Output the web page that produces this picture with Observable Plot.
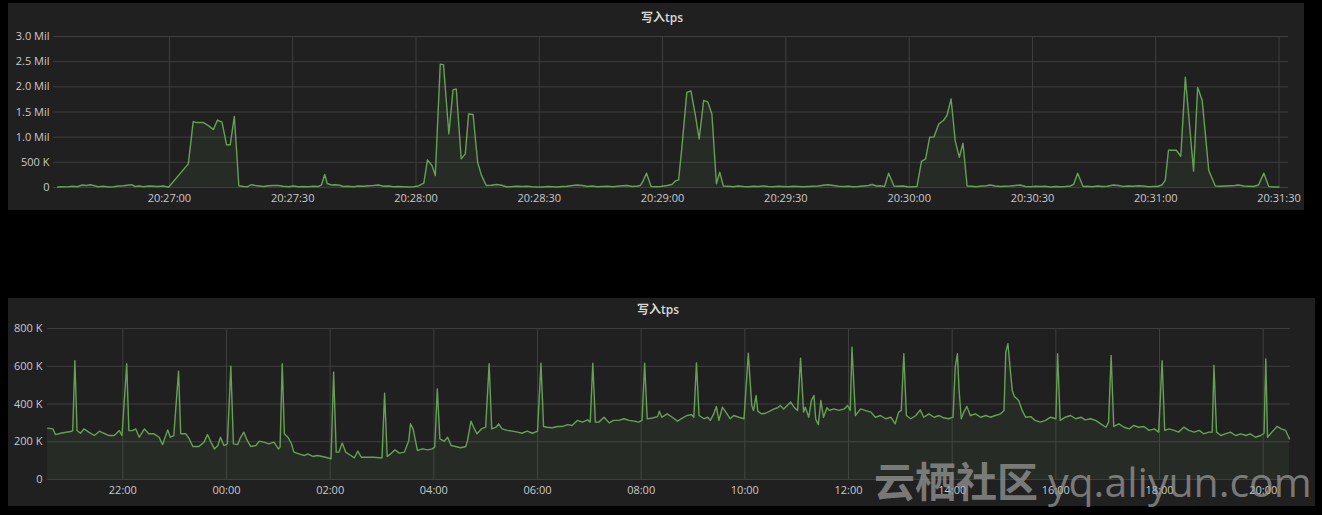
<!DOCTYPE html>
<html><head><meta charset="utf-8">
<script src="https://cdn.jsdelivr.net/npm/d3@7"></script>
<script src="https://cdn.jsdelivr.net/npm/@observablehq/plot@0.6"></script>
<style>
html,body{margin:0;padding:0;background:#000;}
#root{position:relative;width:1322px;height:515px;background:#000;overflow:hidden;font-family:"Open Sans","Noto Sans CJK SC",sans-serif;}
.panel{position:absolute;}
.panel svg{display:block;}
.title{position:absolute;transform:translateX(-50%);color:#d8d9da;font-size:12px;font-weight:600;white-space:nowrap;line-height:14px;font-family:"Open Sans","Noto Sans CJK SC",sans-serif;}
#wm{position:absolute;left:0;top:0;pointer-events:none;}
</style></head>
<body><div id="root"></div>
<script>
// ---------- DATA ----------
const chartTitle = "写入tps";
// top chart: seconds after 20:26:00, values in thousands
const topSeconds = [32.8,34,35.2,36.4,37.6,38.8,39.8,40.8,41.8,42.7,43.9,45.2,46.4,47.6,48.8,49.8,50.8,51.7,52.7,53.7,54.9,56.1,57.3,58.5,59.8,
64.6,65.8,66.7,68.3,69.5,70.7,71.7,72.8,73.9,74.8,75.8,76.9,
78,79,80,80.9,81.9,82.9,84.1,85.3,86.5,87.7,89,90.2,91.4,92.6,93.8,95,96.3,97,97.8,98.4,99.4,100.4,101.4,102.3,
103.6,104.8,106,107.2,108.4,109.6,110.9,112.1,113.3,114.5,115.7,116.9,118.1,119.4,120.6,121.9,122.8,123.9,124.7,125.9,126.7,128,129,129.8,131,132,132.8,133.9,135,135.9,137.1,138.3,139.7,140.8,142.2,143.5,144.7,145.9,147.1,148.3,149.5,150.8,152,153.2,154.4,155.6,156.8,158.1,159.3,160.5,161.7,162.9,164.1,165.3,166.6,167.8,169,170.2,171.4,172.6,173.9,174.6,175.2,176.1,177.2,178.3,179.5,181.1,182.3,183.1,183.9,184.7,185.9,186.9,188,188.9,190,191,192,193.1,193.9,194.8,196,197.2,198.4,199.7,200.9,202.1,203.3,204.5,205.7,206.9,208.2,209.4,210.6,211.8,213,214.3,215.5,216.7,217.9,219.1,220.3,221.6,222.8,224,225.2,226.4,227.6,228.9,230.1,231,232,233,234,235,236.3,237.4,238.6,239.8,240.8,241.9,243,244,245,246,247.2,248.3,249.2,250.2,251.2,252.2,253.1,254.1,255.1,256.3,257.6,258.8,259.7,261,262.2,263.4,264.6,265.8,267,268.3,269.5,270.7,271.9,273.1,274.3,275.6,276.8,278,279.2,280,281,282.3,283.4,284.6,285.8,287,288.2,289.7,290.9,292.1,293.3,294.5,295.8,297,298.2,299.4,300.4,301.5,302.3,303.1,305,306.1,307.2,309.2,310.2,311.3,312.9,314.5,315.8,317,318.2,319.2,320.2,321.4,322.6,323.8,325,326.3,327.5,328.7,330];
const topValuesK = [10,15,12,25,15,50,40,55,35,15,25,10,15,30,35,45,55,20,30,15,30,25,20,30,5,
470,1310,1290,1290,1230,1150,1340,1300,850,850,1410,35,
20,15,55,40,30,20,35,40,40,25,15,30,15,20,15,25,20,50,258,80,50,55,45,20,
25,15,30,25,35,40,50,25,30,15,20,15,10,15,30,85,550,437,238,2450,2440,1065,1940,1960,570,668,1460,1450,502,250,40,45,60,45,10,20,25,20,25,15,10,10,20,15,10,20,25,40,50,40,20,30,15,20,25,15,25,35,40,20,30,40,120,285,20,15,20,40,60,130,150,800,1890,1920,1430,965,1730,1700,1460,73,304,30,25,15,30,20,15,25,20,30,20,15,25,20,15,25,20,15,20,25,30,45,55,40,25,20,25,15,20,30,40,60,30,35,20,285,30,25,30,10,15,20,520,570,1000,1000,1260,1330,1430,1760,932,600,880,30,25,15,30,35,50,30,20,25,30,40,50,20,15,25,20,25,10,20,15,20,30,60,285,20,25,15,30,20,25,50,40,20,30,25,35,30,15,20,20,50,140,740,740,620,2190,325,1990,1730,338,30,25,30,35,40,50,30,25,20,50,285,20,10,10];
const topXTicks = ["20:27:00","20:27:30","20:28:00","20:28:30","20:29:00","20:29:30","20:30:00","20:30:30","20:31:00","20:31:30"];
const topYTicksK = [0,500,1000,1500,2000,2500,3000];

// bottom chart: minutes after 20:00 of day one, values in thousands
const bottomMinutes = [33,39,42,48,54,60,62,64.5,67,71,75,81,87,93,98,104,110,116,119,124.5,127,131,135,139,145,150,156,162,166,172,175,179,184.5,187,193,197,201,208,214,218,222,226,230,233,237,241,245,248,253,256,260,264,268,274,278,283,289,295,300,302,304.5,307,311,315,318,324,330,334,340,345,351,357,361,364,367,370,374,378,384,388,392,396,403,411,417,420,423,426,430,435,440,446,451,453,456,461,467,473,478,481,484,487,492,496,500,505,511,517,519,523,527,530,535,540,544,547,552,555,559,565,571,577,582,588,594,600,604,607,611,617,623,629,635,640,646,652,658,661,664,667,671,677,683,688,694,700,706,712,717,721,724,727,733,739,741,744,750,756,762,768,773,778,781,784,787,793,797,800,804,807,810,814,818,823,827,833,839,844,848,850,853,855,859,864,870,874,878,881,885,889,893,897,901,904.5,908,910,914,917,920,922,925,928,931,935,938,943,949,955,959,962,964,968,974,980,986,991,997,1003,1009,1014,1018,1021,1024,1027,1032,1038,1043,1047,1053,1059,1065,1070,1076,1081,1083.5,1086,1088,1090.5,1093.5,1097,1101,1107,1113,1119,1124,1130,1136,1140,1142,1144.5,1147,1149.5,1152,1157,1161,1165,1171,1176,1182,1188,1194,1200,1202,1205,1211,1217,1223,1229,1234,1240,1246,1252,1258,1261,1264,1267,1273,1279,1285,1290,1296,1302,1308,1314,1319,1323,1326,1331,1337,1342,1348,1354,1360,1366,1371,1377,1381,1383,1386,1391,1396,1402,1408,1414,1420,1425,1431,1437,1441,1443,1445,1450,1456,1461,1466,1470.5];
const bottomValuesK = [272,268,238,245,250,254,259,630,260,245,268,250,233,256,245,233,233,259,233,613,259,259,268,224,268,242,242,224,185,263,224,233,574,242,242,215,175,175,198,238,198,162,180,224,180,189,600,189,185,221,251,207,175,180,203,198,189,198,162,171,613,242,224,192,145,136,127,136,122,127,122,115,110,569,145,145,193,145,127,115,150,118,118,118,115,115,457,122,136,157,140,145,207,295,268,154,162,157,162,171,480,215,203,224,180,175,168,175,207,309,268,242,268,277,613,268,277,295,268,260,256,251,245,256,245,256,616,281,277,274,281,281,291,286,313,304,316,304,616,304,304,330,300,313,313,322,313,309,304,313,616,321,326,333,362,330,348,330,309,326,339,344,330,618,339,322,330,313,348,387,313,383,357,322,339,330,322,669,392,365,445,362,348,351,365,374,380,392,374,392,410,383,365,643,357,383,330,419,445,320,291,419,330,380,366,374,366,374,392,366,701,339,374,365,357,330,339,322,330,295,357,366,666,339,322,339,369,330,348,330,339,327,322,330,595,666,473,322,357,387,339,348,330,339,330,339,348,366,675,719,595,472,440,419,366,330,333,313,304,313,330,322,666,313,330,339,322,330,316,322,313,295,277,304,657,281,295,277,268,286,277,281,260,268,251,630,260,268,260,251,277,260,251,260,242,251,251,604,251,233,242,251,233,242,233,242,224,233,245,639,224,251,281,268,260,215];
const bottomXTicks = ["22:00","00:00","02:00","04:00","06:00","08:00","10:00","12:00","14:00","16:00","18:00","20:00"];
const bottomYTicksK = [0,200,400,600,800];

const watermarkCn = "云栖社区";
const watermarkEn = "yq.aliyun.com";

// ---------- BUILD ----------
const day0 = Date.UTC(2017, 0, 1, 0, 0, 0);
const topTime = s => new Date(day0 + (20*3600 + 26*60 + s) * 1000);
const bottomTime = m => new Date(day0 + (20*60 + m) * 60000);
const hmsToDate = (str, nextDayBefore) => {
  const [h, m, s = 0] = str.split(":").map(Number);
  let secs = h*3600 + m*60 + s;
  if (nextDayBefore !== undefined && h < nextDayBefore) secs += 86400;
  return new Date(day0 + secs*1000);
};

const topData = topSeconds.map((s, i) => ({t: topTime(s), v: topValuesK[i]}));
const bottomData = bottomMinutes.map((m, i) => ({t: bottomTime(m), v: bottomValuesK[i]}));
const topTicks = topXTicks.map(s => hmsToDate(s));
const bottomTicks = bottomXTicks.map(s => hmsToDate(s, 21));

const fmtTop = d => d === 0 ? "0" : d < 1000 ? `${d} K` : `${(d/1000).toFixed(1)} Mil`;
const fmtBottom = d => d === 0 ? "0" : `${d} K`;

const lineColor = "#66a055";
const gridColor = "#3e3e3e";
const panelBg = "#202020";
const fontFam = '"Open Sans","Noto Sans CJK SC",sans-serif';

function panel({left, top, width, height, margins, xDomain, xTicks, xFmt, yDomain, yTicks, yFmt, data, yPad, titleX, titleY}) {
  const div = document.createElement("div");
  div.className = "panel";
  Object.assign(div.style, {left: left+"px", top: top+"px", width: width+"px", height: height+"px", background: panelBg});
  const chart = Plot.plot({
    width, height,
    marginLeft: margins[0], marginRight: margins[1], marginTop: margins[2], marginBottom: margins[3],
    style: {background: panelBg, color: "#c9c9c9", fontSize: "11px", fontFamily: fontFam, overflow: "visible"},
    x: {type: "utc", domain: xDomain, ticks: xTicks, tickFormat: xFmt, tickSize: 0, tickPadding: 7, label: null},
    y: {domain: yDomain, ticks: yTicks, tickFormat: yFmt, tickSize: 0, tickPadding: yPad, label: null},
    marks: [
      Plot.gridY(yTicks, {stroke: gridColor, strokeOpacity: 1}),
      Plot.gridX(xTicks, {stroke: gridColor, strokeOpacity: 1}),
      Plot.areaY(data, {x: "t", y: "v", fill: lineColor, fillOpacity: 0.1, curve: "linear"}),
      Plot.lineY(data, {x: "t", y: "v", stroke: lineColor, strokeWidth: 1.4, curve: "linear"})
    ]
  });
  div.appendChild(chart);
  const t = document.createElement("div");
  t.className = "title";
  t.textContent = chartTitle;
  t.style.left = titleX + "px";
  t.style.top = titleY + "px";
  div.appendChild(t);
  document.getElementById("root").appendChild(div);
}

panel({
  left: 8, top: 3, width: 1296, height: 207, margins: [45, 16, 33, 23],
  xDomain: [topTime(31.8), topTime(332.3)], xTicks: topTicks, xFmt: d3.utcFormat("%H:%M:%S"),
  yDomain: [0, 3000], yTicks: topYTicksK, yFmt: fmtTop, data: topData, yPad: 4,
  titleX: 654, titleY: 8
});
panel({
  left: 8, top: 298, width: 1307, height: 208, margins: [39, 25, 30, 27],
  xDomain: [bottomTime(32.8), bottomTime(1471.6)], xTicks: bottomTicks, xFmt: d3.utcFormat("%H:%M"),
  yDomain: [0, 800], yTicks: bottomYTicksK, yFmt: fmtBottom, data: bottomData, yPad: 5,
  titleX: 650, titleY: 5
});

// watermark overlay (as in the reference image, it lies over the lower axis labels)
const ns = "http://www.w3.org/2000/svg";
const wm = document.createElementNS(ns, "svg");
wm.setAttribute("id", "wm");
wm.setAttribute("width", 1322);
wm.setAttribute("height", 515);
const tx = document.createElementNS(ns, "text");
tx.setAttribute("x", 874);
tx.setAttribute("y", 497);
tx.setAttribute("fill", "#a0a0a0");
tx.setAttribute("fill-opacity", "0.7");
tx.setAttribute("font-size", "41");
tx.setAttribute("font-family", '"Noto Sans CJK SC","Open Sans",sans-serif');
const s1 = document.createElementNS(ns, "tspan");
s1.setAttribute("font-weight", "bold");
s1.textContent = watermarkCn;
const s2 = document.createElementNS(ns, "tspan");
s2.setAttribute("font-family", '"Open Sans",sans-serif');
s2.setAttribute("dx", "10");
s2.textContent = watermarkEn;
tx.appendChild(s1); tx.appendChild(s2);
wm.appendChild(tx);
document.getElementById("root").appendChild(wm);
</script></body></html>
